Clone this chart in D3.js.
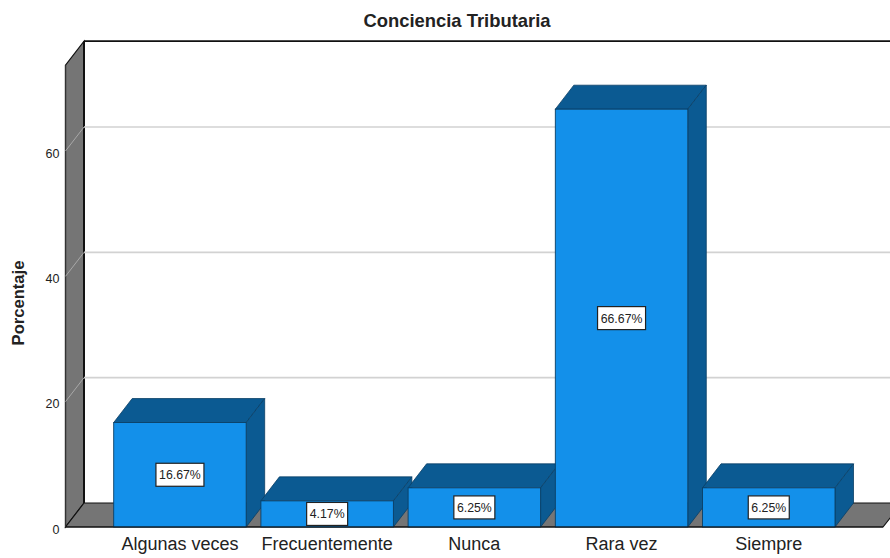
<!DOCTYPE html>
<html>
<head>
<meta charset="utf-8">
<script src="https://cdn.jsdelivr.net/npm/d3@7"></script>
<style>
html,body{margin:0;padding:0;background:#fff;overflow:hidden}
svg{display:block}
text{font-family:"Liberation Sans",Arial,sans-serif;fill:#222}
</style>
</head>
<body>
<svg id="c" width="890" height="558"></svg>
<script>
const categories = ["Algunas veces","Frecuentemente","Nunca","Rara vez","Siempre"];
const percentages = [16.67,4.17,6.25,66.67,6.25];
const barLabels = ["16.67%","4.17%","6.25%","66.67%","6.25%"];
const yTicks = [0,20,40,60];
const gridValues = [20,40,60];
const chartTitle = "Conciencia Tributaria";
const yTitle = "Porcentaje";
const axisTop = 73.7;

const W=890,H=558, dx=18.5, dy=-24;
const C={front:"#1390EA",side:"#0B5A92",wall:"#757575",edge:"#0A3F66",grid:"#D2D2D2",ax:"#111"};
const svg=d3.select("#c");
const x=d3.scaleBand().domain(categories).range([113.7,835]).paddingInner(0.1).paddingOuter(0);
const y=d3.scaleLinear().domain([0,axisTop]).range([527,527-axisTop*(376/60)]);
const poly=pts=>pts.map(p=>p.join(",")).join(" ");
const y0=y(0), yT=y(axisTop), xL=65.5;

// left wall and floor
svg.append("polygon").attr("points",poly([[xL,y0],[xL,yT],[xL+dx,yT+dy],[xL+dx,y0+dy]]))
  .attr("fill",C.wall).attr("stroke",C.ax).attr("stroke-width",1.2);
svg.append("polygon").attr("points",poly([[xL,y0],[xL+dx,y0+dy],[902,y0+dy],[883,y0]]))
  .attr("fill",C.wall).attr("stroke",C.ax).attr("stroke-width",1.2);

// back plane frame
svg.append("line").attr("x1",xL+dx).attr("x2",W).attr("y1",yT+dy).attr("y2",yT+dy).attr("stroke",C.ax).attr("stroke-width",1.6);
svg.append("line").attr("x1",xL+dx).attr("x2",xL+dx).attr("y1",yT+dy).attr("y2",y0+dy).attr("stroke",C.ax).attr("stroke-width",2);
svg.append("line").attr("x1",xL).attr("x2",xL).attr("y1",yT).attr("y2",y0).attr("stroke","#333").attr("stroke-width",1.2);

// gridlines
const grid=svg.append("g").selectAll("g").data(gridValues).join("g");
grid.append("line").attr("x1",xL+dx).attr("x2",W).attr("y1",d=>y(d)+dy).attr("y2",d=>y(d)+dy).attr("stroke",C.grid).attr("stroke-width",1.6);
grid.append("line").attr("x1",xL).attr("x2",xL+dx).attr("y1",d=>y(d)).attr("y2",d=>y(d)+dy).attr("stroke","#A8A8A8").attr("stroke-width",1);

// bars
const bars=svg.append("g").selectAll("g").data(categories.map((c,i)=>({c,v:percentages[i],l:barLabels[i]}))).join("g");
const bw=x.bandwidth();
bars.append("polygon").attr("points",d=>{const a=x(d.c),t=y(d.v);return poly([[a,t],[a+dx,t+dy],[a+bw+dx,t+dy],[a+bw,t]]);})
  .attr("fill",C.side).attr("stroke",C.edge).attr("stroke-width",0.8);
bars.append("polygon").attr("points",d=>{const a=x(d.c)+bw,t=y(d.v);return poly([[a,t],[a+dx,t+dy],[a+dx,y0+dy],[a,y0]]);})
  .attr("fill",C.side).attr("stroke",C.edge).attr("stroke-width",0.8);
bars.append("rect").attr("x",d=>x(d.c)).attr("y",d=>y(d.v)).attr("width",bw).attr("height",d=>y0-y(d.v))
  .attr("fill",C.front).attr("stroke",C.edge).attr("stroke-width",0.9);

// data labels
const lab=bars.append("g").attr("transform",d=>`translate(${x(d.c)+bw/2},${(y(d.v)+y0)/2})`);
lab.append("rect").attr("x",d=>-(d.l.length>5?24:20.5)).attr("y",-11.5).attr("width",d=>d.l.length>5?48:41).attr("height",23)
  .attr("fill","#fff").attr("stroke","#222").attr("stroke-width",1.2);
lab.append("text").attr("text-anchor","middle").attr("y",4.5).attr("font-size",12.3).text(d=>d.l);

// baseline
svg.append("line").attr("x1",xL).attr("x2",883).attr("y1",y0).attr("y2",y0).attr("stroke",C.ax).attr("stroke-width",1.2);

// axes
const ay=svg.append("g").attr("transform",`translate(${xL},2)`)
  .call(d3.axisLeft(y).tickValues(yTicks).tickFormat(d3.format("d")).tickSize(0).tickPadding(6));
ay.select(".domain").remove();
ay.selectAll("text").attr("font-size",12.5).style("font-family",'"Liberation Sans",Arial,sans-serif').attr("fill","#222");
const ax=svg.append("g").attr("transform",`translate(0,${y0})`)
  .call(d3.axisBottom(x).tickSize(0).tickPadding(10));
ax.select(".domain").remove();
ax.selectAll("text").attr("font-size",18).style("font-family",'"Liberation Sans",Arial,sans-serif').attr("fill","#222");

// titles
svg.append("text").attr("x",457).attr("y",27).attr("text-anchor","middle").attr("font-size",18.4).attr("font-weight","bold").text(chartTitle);
svg.append("text").attr("transform","translate(24,303) rotate(-90)").attr("text-anchor","middle").attr("font-size",16.6).attr("font-weight","bold").text(yTitle);
</script>
</body>
</html>
